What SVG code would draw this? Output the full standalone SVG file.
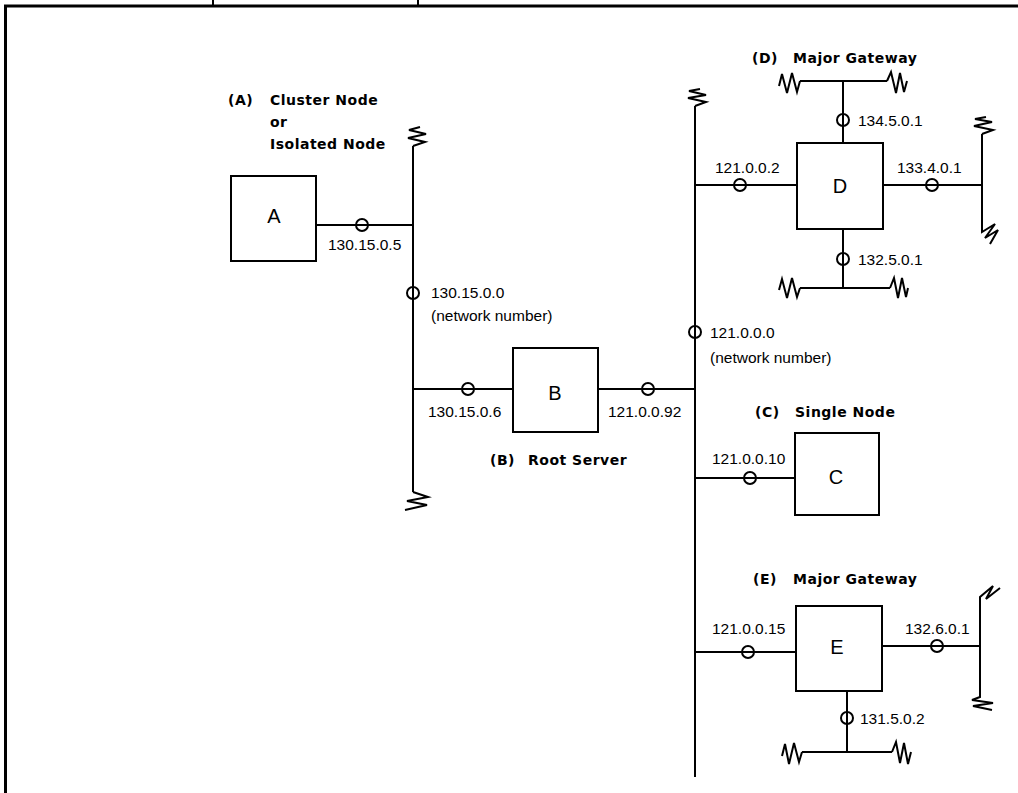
<svg xmlns="http://www.w3.org/2000/svg" width="1018" height="793" viewBox="0 0 1018 793">
<style>
.ln{stroke:#000;stroke-width:2;fill:none}
.zz{stroke:#000;stroke-width:2;fill:none;stroke-linejoin:miter}
.box{stroke:#000;stroke-width:2;fill:#fff}
.ring{stroke:#000;stroke-width:2;fill:none}
.t{font-family:"Liberation Sans",Arial,sans-serif;font-size:15.5px;fill:#000}
.b{font-family:"DejaVu Sans",sans-serif;font-size:14px;font-weight:bold;fill:#000;letter-spacing:0.5px}
.n{font-family:"Liberation Sans",Arial,sans-serif;font-size:20px;fill:#000;text-anchor:middle}
</style>
<rect width="1018" height="793" fill="#fff"/>
<g id="frame">
<path d="M5.5,793 V6 H1018" stroke="#000" stroke-width="3" fill="none"/>
<path d="M213,0 V5 M418,0 V5" stroke="#000" stroke-width="2"/>
</g>
<g id="connectors">
<path class="ln" d="M413,146 V492"/>
<path class="zz" d="M413,146 L425,142 L408,138 L426,134 L409,130 L420,127"/>
<path class="zz" d="M413,492 L428,497 L407,501 L427,505 L405,510"/>
<path class="ln" d="M695,106 V777"/>
<path class="zz" d="M695,106 L706,102 L688,98 L706,95 L689,91 L700,89"/>
<path class="ln" d="M316,225 H413"/>
<circle class="ring" cx="362" cy="225" r="6"/>
<circle class="ring" cx="413" cy="293" r="6"/>
<path class="ln" d="M413,389 H513 M598,389 H695"/>
<circle class="ring" cx="468" cy="389" r="6"/>
<circle class="ring" cx="648" cy="389" r="6"/>
<circle class="ring" cx="695" cy="332" r="6"/>
<path class="ln" d="M695,185 H797 M883,185 H982 M843,81 V143 M843,229 V288"/>
<circle class="ring" cx="740" cy="185" r="6"/>
<circle class="ring" cx="932" cy="185" r="6"/>
<circle class="ring" cx="843" cy="120" r="6"/>
<circle class="ring" cx="843" cy="259" r="6"/>
<path class="ln" d="M800,81 H887 M800,288 H890 M982,134 V223"/>
<path class="zz" d="M800,81 L797,92 L792,73 L787,93 L782,74 L779,86"/>
<path class="zz" d="M887,81 L891,72 L896,93 L900,73 L904,92 L907,81"/>
<path class="zz" d="M800,288 L797,297 L792,278 L787,298 L782,279 L779,290"/>
<path class="zz" d="M890,288 L894,278 L898,298 L902,278 L906,297 L908,288"/>
<path class="zz" d="M982,134 L993,130 L974,126 L992,122 L975,119 L986,117"/>
<path class="zz" d="M982,223 L982,232 L995,224 L985,238 L998,230 L990,244"/>
<path class="ln" d="M695,478 H795"/>
<circle class="ring" cx="750" cy="478" r="6"/>
<path class="ln" d="M695,652 H796 M882,646 H980 M980,603 V692 M847,691 V752 M802,752 H892"/>
<circle class="ring" cx="748" cy="652" r="6"/>
<circle class="ring" cx="937" cy="646" r="6"/>
<circle class="ring" cx="847" cy="718" r="6"/>
<path class="zz" d="M980,603 L980,597 L993,586 L986,599 L1000,588"/>
<path class="zz" d="M980,692 L980,697 L972,700 L993,703 L973,706 L992,710"/>
<path class="zz" d="M802,752 L799,762 L794,743 L789,764 L785,744 L782,756"/>
<path class="zz" d="M892,752 L896,742 L900,763 L904,743 L908,764 L911,752"/>
<text class="t" x="328" y="250">130.15.0.5</text>
<text class="t" x="431" y="298">130.15.0.0</text>
<text class="t" x="431" y="321">(network number)</text>
<text class="t" x="428" y="417">130.15.0.6</text>
<text class="t" x="608" y="417">121.0.0.92</text>
<text class="t" x="858" y="126">134.5.0.1</text>
<text class="t" x="715" y="173">121.0.0.2</text>
<text class="t" x="897" y="173">133.4.0.1</text>
<text class="t" x="858" y="265">132.5.0.1</text>
<text class="t" x="710" y="338">121.0.0.0</text>
<text class="t" x="710" y="363">(network number)</text>
<text class="t" x="712" y="464">121.0.0.10</text>
<text class="t" x="712" y="634">121.0.0.15</text>
<text class="t" x="905" y="634">132.6.0.1</text>
<text class="t" x="860" y="724">131.5.0.2</text>
</g>
<g id="nodeA">
<rect class="box" x="231" y="176" width="85" height="85"/>
<text class="n" x="274" y="223">A</text>
<text class="b" x="228" y="105">(A)</text>
<text class="b" x="270" y="105">Cluster Node</text>
<text class="b" x="270" y="127">or</text>
<text class="b" x="270" y="149">Isolated Node</text>
</g>
<g id="nodeB">
<rect class="box" x="513" y="348" width="85" height="84"/>
<text class="n" x="555" y="400">B</text>
<text class="b" x="490" y="465">(B)</text>
<text class="b" x="528" y="465">Root Server</text>
</g>
<g id="nodeC">
<rect class="box" x="795" y="433" width="84" height="82"/>
<text class="n" x="836" y="484">C</text>
<text class="b" x="755" y="417">(C)</text>
<text class="b" x="795" y="417">Single Node</text>
</g>
<g id="nodeD">
<rect class="box" x="797" y="143" width="86" height="86"/>
<text class="n" x="840" y="193">D</text>
<text class="b" x="752" y="63">(D)</text>
<text class="b" x="793" y="63">Major Gateway</text>
</g>
<g id="nodeE">
<rect class="box" x="796" y="606" width="86" height="85"/>
<text class="n" x="837" y="654">E</text>
<text class="b" x="753" y="584">(E)</text>
<text class="b" x="793" y="584">Major Gateway</text>
</g>
</svg>
